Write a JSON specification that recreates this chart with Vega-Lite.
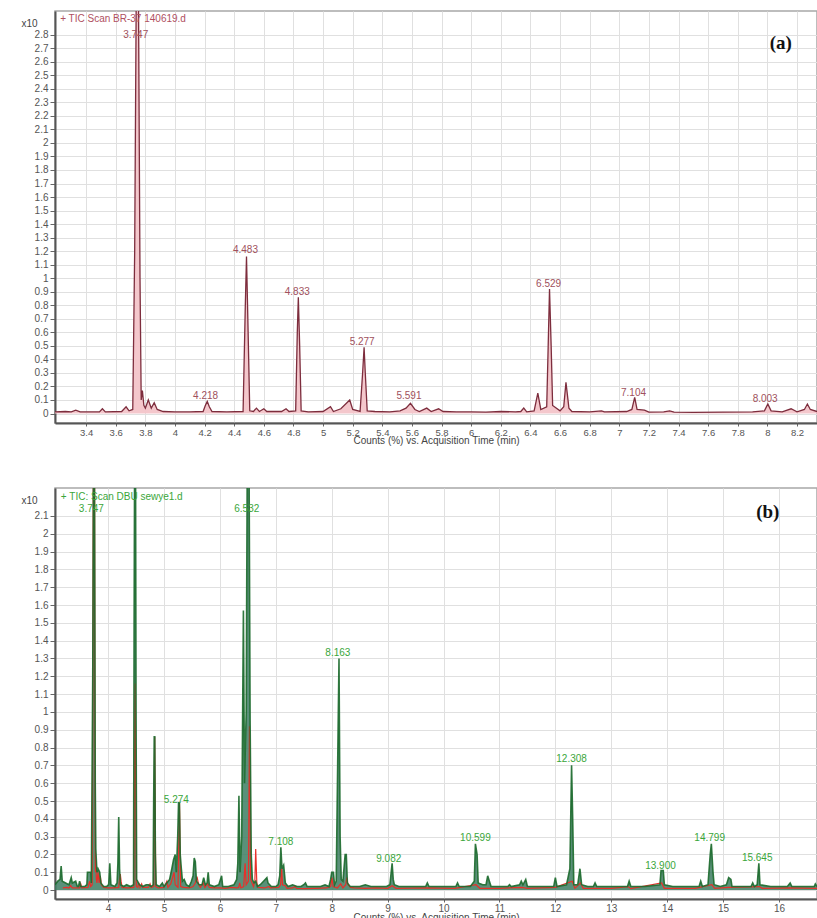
{
  "$schema": "https://vega.github.io/schema/vega-lite/v6.json",
  "padding": {"left": 20, "top": 10, "right": 0, "bottom": 0},
  "background": "white",
  "bounds": "flush",
  "spacing": 65,
  "config": {
    "font": "Liberation Sans",
    "view": {"stroke": "#a8a8a8", "strokeWidth": 1.5},
    "axis": {"gridColor": "#e0e0e0", "gridWidth": 1, "domainColor": "#555555", "domainWidth": 2, "tickColor": "#666666", "tickSize": 4, "labelColor": "#555555", "labelFontSize": 10, "titleFontWeight": "normal", "titleColor": "#444444", "titleFontSize": 10}
  },
  "datasets": {
    "tic_a": [
      {"t":3.19,"v":0.012},{"t":3.26,"v":0.015},{"t":3.30,"v":0.012},{"t":3.33,"v":0.025},{"t":3.36,"v":0.012},{"t":3.45,"v":0.012},{"t":3.49,"v":0.012},{"t":3.51,"v":0.035},{"t":3.53,"v":0.012},{"t":3.64,"v":0.015},{"t":3.67,"v":0.05},{"t":3.69,"v":0.02},{"t":3.715,"v":0.03},{"t":3.728,"v":1.2},{"t":3.738,"v":3.0},{"t":3.754,"v":3.0},{"t":3.764,"v":1.0},{"t":3.772,"v":0.1},{"t":3.78,"v":0.17},{"t":3.79,"v":0.06},{"t":3.80,"v":0.04},{"t":3.82,"v":0.1},{"t":3.84,"v":0.04},{"t":3.86,"v":0.08},{"t":3.88,"v":0.03},{"t":3.92,"v":0.015},{"t":4.0,"v":0.012},{"t":4.1,"v":0.012},{"t":4.19,"v":0.015},{"t":4.205,"v":0.06},{"t":4.218,"v":0.09},{"t":4.232,"v":0.05},{"t":4.25,"v":0.015},{"t":4.35,"v":0.012},{"t":4.46,"v":0.015},{"t":4.475,"v":0.8},{"t":4.483,"v":1.16},{"t":4.492,"v":0.7},{"t":4.505,"v":0.02},{"t":4.53,"v":0.015},{"t":4.55,"v":0.04},{"t":4.57,"v":0.015},{"t":4.60,"v":0.035},{"t":4.62,"v":0.015},{"t":4.72,"v":0.015},{"t":4.75,"v":0.035},{"t":4.77,"v":0.015},{"t":4.815,"v":0.02},{"t":4.826,"v":0.6},{"t":4.833,"v":0.86},{"t":4.842,"v":0.5},{"t":4.852,"v":0.02},{"t":4.9,"v":0.012},{"t":5.0,"v":0.015},{"t":5.05,"v":0.05},{"t":5.07,"v":0.015},{"t":5.12,"v":0.035},{"t":5.18,"v":0.1},{"t":5.2,"v":0.03},{"t":5.25,"v":0.015},{"t":5.267,"v":0.3},{"t":5.277,"v":0.49},{"t":5.285,"v":0.3},{"t":5.298,"v":0.02},{"t":5.35,"v":0.015},{"t":5.45,"v":0.012},{"t":5.52,"v":0.02},{"t":5.56,"v":0.04},{"t":5.59,"v":0.075},{"t":5.62,"v":0.03},{"t":5.65,"v":0.015},{"t":5.7,"v":0.04},{"t":5.73,"v":0.015},{"t":5.78,"v":0.035},{"t":5.81,"v":0.015},{"t":5.9,"v":0.012},{"t":6.0,"v":0.012},{"t":6.1,"v":0.01},{"t":6.2,"v":0.015},{"t":6.3,"v":0.012},{"t":6.335,"v":0.015},{"t":6.355,"v":0.04},{"t":6.375,"v":0.012},{"t":6.425,"v":0.02},{"t":6.45,"v":0.15},{"t":6.47,"v":0.03},{"t":6.51,"v":0.05},{"t":6.52,"v":0.5},{"t":6.529,"v":0.92},{"t":6.54,"v":0.5},{"t":6.55,"v":0.06},{"t":6.6,"v":0.02},{"t":6.625,"v":0.05},{"t":6.64,"v":0.23},{"t":6.66,"v":0.04},{"t":6.68,"v":0.015},{"t":6.8,"v":0.012},{"t":6.88,"v":0.02},{"t":6.9,"v":0.012},{"t":7.05,"v":0.015},{"t":7.085,"v":0.03},{"t":7.104,"v":0.12},{"t":7.12,"v":0.03},{"t":7.17,"v":0.025},{"t":7.2,"v":0.01},{"t":7.3,"v":0.012},{"t":7.34,"v":0.02},{"t":7.37,"v":0.01},{"t":7.5,"v":0.008},{"t":7.7,"v":0.01},{"t":7.9,"v":0.012},{"t":7.98,"v":0.02},{"t":8.003,"v":0.07},{"t":8.025,"v":0.02},{"t":8.1,"v":0.012},{"t":8.16,"v":0.035},{"t":8.2,"v":0.012},{"t":8.25,"v":0.03},{"t":8.27,"v":0.07},{"t":8.29,"v":0.03},{"t":8.335,"v":0.015},
      {"t":8.40,"v":0.012},{"t":8.6,"v":0.01},{"t":8.8,"v":0.012},{"t":9.0,"v":0.01},{"t":9.08,"v":0.025},{"t":9.15,"v":0.01},{"t":9.7,"v":0.012},{"t":10.2,"v":0.01},{"t":10.58,"v":0.03},{"t":10.65,"v":0.01},{"t":11.0,"v":0.01},{"t":11.4,"v":0.015},{"t":11.5,"v":0.01},{"t":12.0,"v":0.015},{"t":12.3,"v":0.05},{"t":12.35,"v":0.01},{"t":12.45,"v":0.04},{"t":12.5,"v":0.01},{"t":13.0,"v":0.01},{"t":13.3,"v":0.02},{"t":13.35,"v":0.008},{"t":13.9,"v":0.04},{"t":13.95,"v":0.01},{"t":14.5,"v":0.01},{"t":14.8,"v":0.03},{"t":14.85,"v":0.01},{"t":15.1,"v":0.015},{"t":15.65,"v":0.02},{"t":15.7,"v":0.01},{"t":16.2,"v":0.012},{"t":16.68,"v":0.01}
    ],
    "tic_b": [
      {"t":3.05,"v":0.03},{"t":3.1,"v":0.05},{"t":3.14,"v":0.06},{"t":3.16,"v":0.135},{"t":3.18,"v":0.05},{"t":3.24,"v":0.04},{"t":3.3,"v":0.03},{"t":3.32,"v":0.05},{"t":3.34,"v":0.07},{"t":3.36,"v":0.04},{"t":3.42,"v":0.05},{"t":3.45,"v":0.02},{"t":3.47,"v":0.02},{"t":3.49,"v":0.05},{"t":3.51,"v":0.02},{"t":3.58,"v":0.02},{"t":3.62,"v":0.03},{"t":3.63,"v":0.1},{"t":3.69,"v":0.1},{"t":3.70,"v":0.04},{"t":3.725,"v":1.2},{"t":3.74,"v":2.5},{"t":3.755,"v":2.5},{"t":3.77,"v":0.6},{"t":3.78,"v":0.23},{"t":3.80,"v":0.1},{"t":3.82,"v":0.12},{"t":3.85,"v":0.1},{"t":3.87,"v":0.04},{"t":3.92,"v":0.02},{"t":3.97,"v":0.02},{"t":4.01,"v":0.03},{"t":4.03,"v":0.15},{"t":4.05,"v":0.03},{"t":4.12,"v":0.02},{"t":4.16,"v":0.04},{"t":4.175,"v":0.15},{"t":4.19,"v":0.41},{"t":4.205,"v":0.12},{"t":4.22,"v":0.03},{"t":4.28,"v":0.02},{"t":4.33,"v":0.03},{"t":4.4,"v":0.02},{"t":4.455,"v":0.03},{"t":4.465,"v":1.5},{"t":4.475,"v":2.5},{"t":4.49,"v":2.5},{"t":4.5,"v":1.0},{"t":4.51,"v":0.06},{"t":4.56,"v":0.03},{"t":4.62,"v":0.02},{"t":4.68,"v":0.03},{"t":4.72,"v":0.03},{"t":4.77,"v":0.02},{"t":4.805,"v":0.03},{"t":4.815,"v":0.5},{"t":4.825,"v":0.86},{"t":4.835,"v":0.86},{"t":4.845,"v":0.2},{"t":4.86,"v":0.03},{"t":4.92,"v":0.02},{"t":4.97,"v":0.04},{"t":5.0,"v":0.02},{"t":5.05,"v":0.04},{"t":5.1,"v":0.06},{"t":5.14,"v":0.12},{"t":5.17,"v":0.17},{"t":5.2,"v":0.2},{"t":5.22,"v":0.1},{"t":5.245,"v":0.3},{"t":5.26,"v":0.49},{"t":5.275,"v":0.49},{"t":5.29,"v":0.2},{"t":5.31,"v":0.12},{"t":5.33,"v":0.05},{"t":5.36,"v":0.06},{"t":5.4,"v":0.03},{"t":5.45,"v":0.02},{"t":5.49,"v":0.05},{"t":5.52,"v":0.08},{"t":5.54,"v":0.18},{"t":5.56,"v":0.16},{"t":5.58,"v":0.05},{"t":5.63,"v":0.03},{"t":5.68,"v":0.03},{"t":5.71,"v":0.07},{"t":5.74,"v":0.03},{"t":5.77,"v":0.04},{"t":5.79,"v":0.1},{"t":5.81,"v":0.03},{"t":5.9,"v":0.02},{"t":5.98,"v":0.03},{"t":6.03,"v":0.08},{"t":6.05,"v":0.02},{"t":6.15,"v":0.02},{"t":6.25,"v":0.03},{"t":6.3,"v":0.06},{"t":6.32,"v":0.15},{"t":6.34,"v":0.53},{"t":6.36,"v":0.1},{"t":6.39,"v":0.3},{"t":6.42,"v":1.57},{"t":6.44,"v":0.6},{"t":6.47,"v":1.0},{"t":6.49,"v":2.5},{"t":6.52,"v":2.5},{"t":6.54,"v":0.95},{"t":6.56,"v":0.2},{"t":6.58,"v":0.06},{"t":6.61,"v":0.04},{"t":6.64,"v":0.05},{"t":6.67,"v":0.02},{"t":6.72,"v":0.03},{"t":6.78,"v":0.05},{"t":6.84,"v":0.07},{"t":6.86,"v":0.04},{"t":6.92,"v":0.02},{"t":7.0,"v":0.02},{"t":7.04,"v":0.03},{"t":7.07,"v":0.08},{"t":7.09,"v":0.24},{"t":7.11,"v":0.12},{"t":7.14,"v":0.14},{"t":7.17,"v":0.04},{"t":7.22,"v":0.02},{"t":7.3,"v":0.03},{"t":7.38,"v":0.02},{"t":7.45,"v":0.02},{"t":7.5,"v":0.03},{"t":7.53,"v":0.04},{"t":7.56,"v":0.02},{"t":7.7,"v":0.02},{"t":7.8,"v":0.02},{"t":7.88,"v":0.03},{"t":7.95,"v":0.02},{"t":7.98,"v":0.06},{"t":8.0,"v":0.1},{"t":8.03,"v":0.1},{"t":8.05,"v":0.03},{"t":8.08,"v":0.05},{"t":8.11,"v":0.8},{"t":8.13,"v":1.3},{"t":8.15,"v":0.3},{"t":8.17,"v":0.06},{"t":8.2,"v":0.05},{"t":8.24,"v":0.2},{"t":8.26,"v":0.2},{"t":8.28,"v":0.04},{"t":8.33,"v":0.02},{"t":8.5,"v":0.02},{"t":8.6,"v":0.03},{"t":8.7,"v":0.02},{"t":8.9,"v":0.02},{"t":8.98,"v":0.02},{"t":9.04,"v":0.03},{"t":9.06,"v":0.09},{"t":9.08,"v":0.15},{"t":9.1,"v":0.06},{"t":9.12,"v":0.03},{"t":9.2,"v":0.02},{"t":9.35,"v":0.02},{"t":9.5,"v":0.02},{"t":9.68,"v":0.02},{"t":9.71,"v":0.04},{"t":9.74,"v":0.02},{"t":10.0,"v":0.02},{"t":10.22,"v":0.02},{"t":10.25,"v":0.04},{"t":10.28,"v":0.02},{"t":10.48,"v":0.02},{"t":10.55,"v":0.05},{"t":10.57,"v":0.26},{"t":10.6,"v":0.2},{"t":10.62,"v":0.04},{"t":10.7,"v":0.03},{"t":10.76,"v":0.03},{"t":10.79,"v":0.08},{"t":10.82,"v":0.05},{"t":10.85,"v":0.02},{"t":11.0,"v":0.02},{"t":11.15,"v":0.02},{"t":11.18,"v":0.03},{"t":11.21,"v":0.02},{"t":11.36,"v":0.03},{"t":11.39,"v":0.05},{"t":11.42,"v":0.03},{"t":11.47,"v":0.06},{"t":11.5,"v":0.02},{"t":11.7,"v":0.02},{"t":11.97,"v":0.02},{"t":12.0,"v":0.07},{"t":12.03,"v":0.02},{"t":12.2,"v":0.03},{"t":12.26,"v":0.12},{"t":12.29,"v":0.7},{"t":12.31,"v":0.4},{"t":12.33,"v":0.03},{"t":12.4,"v":0.03},{"t":12.44,"v":0.12},{"t":12.47,"v":0.03},{"t":12.58,"v":0.02},{"t":12.68,"v":0.02},{"t":12.71,"v":0.04},{"t":12.74,"v":0.02},{"t":13.0,"v":0.02},{"t":13.29,"v":0.02},{"t":13.32,"v":0.05},{"t":13.35,"v":0.02},{"t":13.6,"v":0.02},{"t":13.87,"v":0.03},{"t":13.89,"v":0.11},{"t":13.93,"v":0.11},{"t":13.95,"v":0.03},{"t":14.1,"v":0.02},{"t":14.35,"v":0.02},{"t":14.57,"v":0.02},{"t":14.6,"v":0.05},{"t":14.63,"v":0.02},{"t":14.73,"v":0.03},{"t":14.77,"v":0.2},{"t":14.79,"v":0.26},{"t":14.82,"v":0.1},{"t":14.84,"v":0.03},{"t":14.95,"v":0.02},{"t":15.06,"v":0.03},{"t":15.1,"v":0.07},{"t":15.14,"v":0.06},{"t":15.16,"v":0.02},{"t":15.35,"v":0.02},{"t":15.5,"v":0.02},{"t":15.53,"v":0.04},{"t":15.56,"v":0.02},{"t":15.61,"v":0.03},{"t":15.64,"v":0.15},{"t":15.66,"v":0.03},{"t":15.85,"v":0.02},{"t":16.15,"v":0.02},{"t":16.2,"v":0.04},{"t":16.23,"v":0.02},{"t":16.45,"v":0.02},{"t":16.63,"v":0.02},{"t":16.65,"v":0.035},{"t":16.68,"v":0.02}
    ],
    "labels_a": [
      {"t":3.735,"v":2.8,"label":"3.747"},{"t":4.207,"v":0.13,"label":"4.218"},{"t":4.476,"v":1.21,"label":"4.483"},{"t":4.826,"v":0.9,"label":"4.833"},{"t":5.264,"v":0.53,"label":"5.277"},{"t":5.58,"v":0.13,"label":"5.591"},{"t":6.523,"v":0.96,"label":"6.529"},{"t":7.096,"v":0.155,"label":"7.104"},{"t":7.985,"v":0.106,"label":"8.003"}
    ],
    "labels_b": [
      {"t":3.70,"v":2.14,"label":"3.747"},{"t":6.48,"v":2.14,"label":"6.532"},{"t":5.22,"v":0.505,"label":"5.274"},{"t":8.11,"v":1.33,"label":"8.163"},{"t":7.09,"v":0.27,"label":"7.108"},{"t":9.02,"v":0.175,"label":"9.082"},{"t":10.57,"v":0.29,"label":"10.599"},{"t":12.29,"v":0.735,"label":"12.308"},{"t":13.88,"v":0.135,"label":"13.900"},{"t":14.76,"v":0.29,"label":"14.799"},{"t":15.61,"v":0.18,"label":"15.645"}
    ]
  },
  "vconcat": [
    {
      "width": 762,
      "height": 412,
      "encoding": {
        "x": {"field": "t", "type": "quantitative", "scale": {"domain": [3.19, 8.335], "nice": false, "zero": false},
          "axis": {"values": [3.4,3.6,3.8,4,4.2,4.4,4.6,4.8,5,5.2,5.4,5.6,5.8,6,6.2,6.4,6.6,6.8,7,7.2,7.4,7.6,7.8,8,8.2], "format": "~g", "title": "Counts (%) vs. Acquisition Time (min)", "tickSize": 3, "labelPadding": 1, "titlePadding": -1, "labelFontSize": 9.5}},
        "y": {"field": "v", "type": "quantitative", "scale": {"domain": [-0.07, 2.975], "nice": false},
          "axis": {"values": [0,0.1,0.2,0.3,0.4,0.5,0.6,0.7,0.8,0.9,1,1.1,1.2,1.3,1.4,1.5,1.6,1.7,1.8,1.9,2,2.1,2.2,2.3,2.4,2.5,2.6,2.7,2.8], "format": "~g", "title": "x10", "titleAngle": 0, "titleAlign": "right", "titleBaseline": "middle", "titleX": -18, "titleY": 12, "tickSize": 5, "labelPadding": 2}}
      },
      "layer": [
        {"data": {"name": "tic_a"}, "mark": {"type": "area", "color": "#f3c4c9", "opacity": 0.95, "clip": true}},
        {"data": {"name": "tic_a"}, "mark": {"type": "line", "color": "#7d2d3d", "strokeWidth": 1.3, "clip": true}},
        {"data": {"name": "labels_a"}, "mark": {"type": "text", "color": "#a0505c", "fontSize": 10, "align": "center", "baseline": "middle"}, "encoding": {"text": {"field": "label"}}},
        {"data": {"values": [{"t": 3.225, "v": 2.915, "label": "+ TIC Scan BR-37 140619.d"}]}, "mark": {"type": "text", "color": "#b0505f", "fontSize": 10, "align": "left", "baseline": "middle"}, "encoding": {"text": {"field": "label"}}},
        {"data": {"values": [{"t": 8.09, "v": 2.74, "label": "(a)"}]}, "mark": {"type": "text", "color": "#111111", "font": "Liberation Serif", "fontWeight": "bold", "fontSize": 19, "align": "center", "baseline": "middle"}, "encoding": {"text": {"field": "label"}}}
      ]
    },
    {
      "width": 762,
      "height": 411,
      "encoding": {
        "x": {"field": "t", "type": "quantitative", "scale": {"domain": [3.05, 16.68], "nice": false, "zero": false},
          "axis": {"values": [4,5,6,7,8,9,10,11,12,13,14,15,16], "format": "~g", "title": "Counts (%) vs. Acquisition Time (min)", "tickSize": 3, "labelPadding": 1, "titlePadding": -1, "labelFontSize": 10}},
        "y": {"field": "v", "type": "quantitative", "scale": {"domain": [-0.05, 2.257], "nice": false},
          "axis": {"values": [0,0.1,0.2,0.3,0.4,0.5,0.6,0.7,0.8,0.9,1,1.1,1.2,1.3,1.4,1.5,1.6,1.7,1.8,1.9,2,2.1], "format": "~g", "title": "x10", "titleAngle": 0, "titleAlign": "right", "titleBaseline": "middle", "titleX": -18, "titleY": 12, "tickSize": 5, "labelPadding": 2}}
      },
      "layer": [
        {"data": {"name": "tic_b"}, "mark": {"type": "area", "color": "#3d7d62", "opacity": 0.85, "clip": true}},
        {"data": {"name": "tic_a"}, "mark": {"type": "line", "color": "#e8302a", "strokeWidth": 1.2, "clip": true}},
        {"data": {"name": "tic_b"}, "mark": {"type": "line", "color": "#1c6a2c", "strokeWidth": 1.6, "opacity": 0.9, "clip": true}},
        {"data": {"name": "labels_b"}, "mark": {"type": "text", "color": "#3aa63a", "fontSize": 10, "align": "center", "baseline": "middle"}, "encoding": {"text": {"field": "label"}}},
        {"data": {"values": [{"t": 3.155, "v": 2.206, "label": "+ TIC: Scan DBU sewye1.d"}]}, "mark": {"type": "text", "color": "#3aa63a", "fontSize": 10, "align": "left", "baseline": "middle"}, "encoding": {"text": {"field": "label"}}},
        {"data": {"values": [{"t": 15.8, "v": 2.12, "label": "(b)"}]}, "mark": {"type": "text", "color": "#111111", "font": "Liberation Serif", "fontWeight": "bold", "fontSize": 19, "align": "center", "baseline": "middle"}, "encoding": {"text": {"field": "label"}}}
      ]
    }
  ]
}
